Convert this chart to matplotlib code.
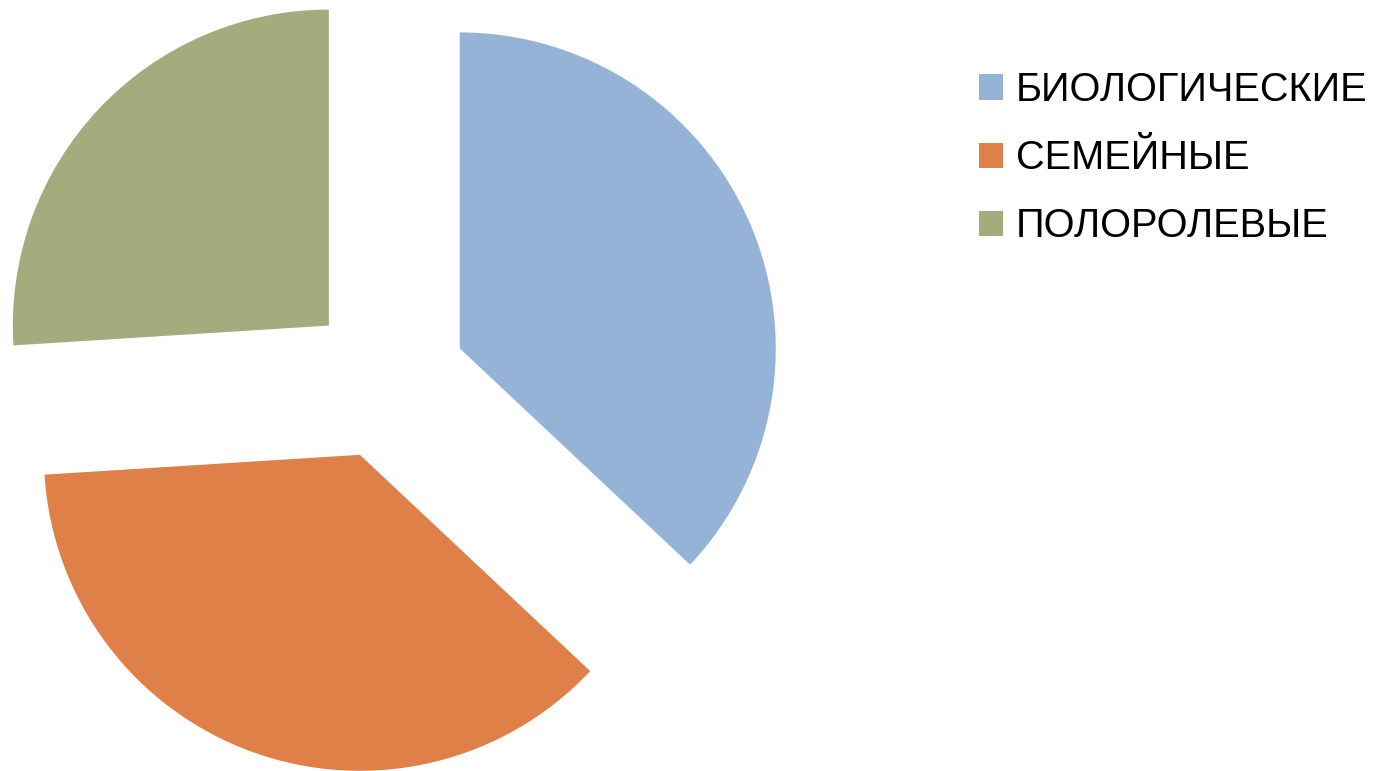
import matplotlib as mpl
mpl.use('Agg')
import matplotlib.pyplot as plt

# данные
labels = ['БИОЛОГИЧЕСКИЕ', 'СЕМЕЙНЫЕ', 'ПОЛОРОЛЕВЫЕ']
values = [37, 37, 26]
colors = ['#95B3D7', '#DF8049', '#A4AC7E']

W, H = 1379, 771
cx, cy = 386.8, 380.0   # центр круга, пиксели
R = 316.0               # радиус, пиксели

plt.rcParams['font.family'] = ['Liberation Sans', 'DejaVu Sans']

fig = plt.figure(figsize=(W / 100, H / 100), dpi=100)
ax = fig.add_axes([0, 0, 1, 1])

wedges, _ = ax.pie(values, colors=colors, startangle=90, counterclock=False,
                   explode=[0.2516] * len(values), radius=1.0,
                   wedgeprops=dict(linewidth=0))

ax.set_aspect('auto')
ax.set_xlim(-cx / R, (W - cx) / R)
ax.set_ylim(-(H - cy) / R, cy / R)
ax.axis('off')

# легенда справа
ax.legend(wedges, labels, loc='upper left', bbox_to_anchor=(979 / W, 1 - 71 / H),
          bbox_transform=fig.transFigure, frameon=False, fontsize=28.6,
          handlelength=0.6, handleheight=0.6, handletextpad=0.32,
          labelspacing=0.76, borderpad=0, borderaxespad=0)

plt.savefig('out.png', dpi=100)
